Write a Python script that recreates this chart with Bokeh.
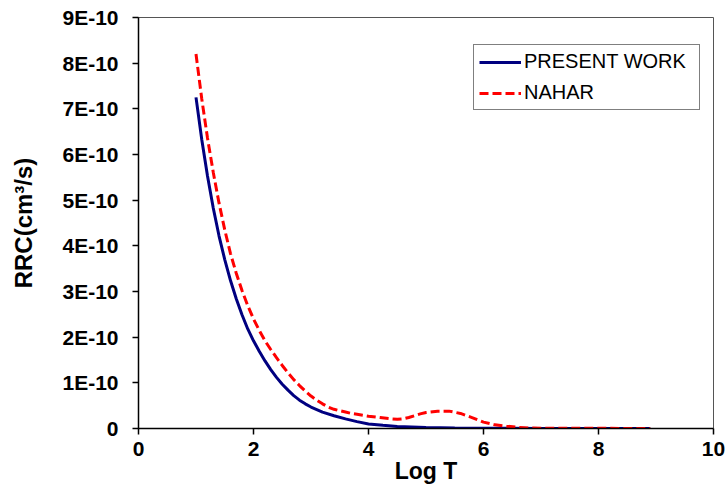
from bokeh.plotting import figure
from bokeh.models import FixedTicker, CustomJSTickFormatter, Range1d, Legend, LegendItem
from bokeh.embed import file_html
from bokeh.resources import INLINE

# Data
logT_present = [1.0, 1.1, 1.2, 1.3, 1.4, 1.5, 1.6, 1.7, 1.8, 1.9, 2.0, 2.1, 2.2, 2.3,
                2.4, 2.5, 2.6, 2.7, 2.8, 2.9, 3.0, 3.2, 3.4, 3.6, 3.8, 4.0, 4.25,
                4.5, 5.0, 5.5, 6.0, 7.0, 8.0, 8.9]
rrc_present = [7.25e-10, 6.33e-10, 5.53e-10, 4.83e-10, 4.22e-10, 3.70e-10, 3.24e-10,
               2.84e-10, 2.49e-10, 2.18e-10, 1.92e-10, 1.69e-10, 1.48e-10, 1.29e-10,
               1.12e-10, 0.97e-10, 0.84e-10, 0.72e-10, 0.62e-10, 0.54e-10, 0.47e-10,
               0.36e-10, 0.28e-10, 0.21e-10, 0.15e-10, 0.10e-10, 0.07e-10,
               0.045e-10, 0.02e-10, 0.01e-10, 0.005e-10, 0.002e-10, 0.001e-10, 0.0005e-10]

logT_nahar = [1.0, 1.1, 1.2, 1.3, 1.4, 1.5, 1.6, 1.7, 1.8, 1.9, 2.0, 2.1, 2.2, 2.3,
              2.4, 2.5, 2.6, 2.7, 2.8, 2.9, 3.0, 3.1, 3.2, 3.3, 3.4, 3.5, 3.6, 3.7,
              3.8, 3.9, 4.0, 4.2, 4.4, 4.5, 4.6, 4.7, 4.8, 4.9, 5.0, 5.2, 5.4, 5.6,
              5.8, 6.0, 6.2, 6.4, 6.6, 6.8, 7.0, 8.0, 8.9]
rrc_nahar = [8.2e-10, 7.22e-10, 6.36e-10, 5.61e-10, 4.94e-10, 4.35e-10, 3.83e-10,
             3.40e-10, 3.02e-10, 2.69e-10, 2.40e-10, 2.15e-10, 1.92e-10, 1.73e-10,
             1.55e-10, 1.38e-10, 1.22e-10, 1.07e-10, 0.94e-10, 0.82e-10, 0.71e-10,
             0.62e-10, 0.54e-10, 0.47e-10, 0.42e-10, 0.39e-10, 0.36e-10, 0.33e-10,
             0.31e-10, 0.29e-10, 0.27e-10, 0.24e-10, 0.21e-10, 0.20e-10, 0.21e-10,
             0.24e-10, 0.28e-10, 0.32e-10, 0.35e-10, 0.38e-10, 0.38e-10, 0.33e-10,
             0.24e-10, 0.14e-10, 0.08e-10, 0.05e-10, 0.025e-10, 0.012e-10,
             0.007e-10, 0.003e-10, 0.002e-10]

x_ticks = [0, 2, 4, 6, 8, 10]
y_ticks = [0, 1e-10, 2e-10, 3e-10, 4e-10, 5e-10, 6e-10, 7e-10, 8e-10, 9e-10]

FONT = "Liberation Sans"

p = figure(width=728, height=489, output_backend="svg", toolbar_location=None,
           x_range=Range1d(0, 10), y_range=Range1d(0, 9e-10),
           min_border_left=138, min_border_right=15, min_border_top=17,
           min_border_bottom=61)
p.background_fill_color = "white"
p.border_fill_color = "white"
p.outline_line_color = "#555555"
p.outline_line_width = 1
p.xgrid.visible = False
p.ygrid.visible = False

l1 = p.line(logT_present, rrc_present, line_color="#000080", line_width=3)
l2 = p.line(logT_nahar, rrc_nahar, line_color="#FF0000", line_width=3,
            line_dash="9 4")

for ax in (p.xaxis[0], p.yaxis[0]):
    ax.axis_line_color = "black"
    ax.axis_line_width = 1.5
    ax.major_tick_line_color = "black"
    ax.major_tick_line_width = 1.5
    ax.major_tick_in = 0
    ax.major_tick_out = 6
    ax.minor_tick_line_color = None
    ax.major_label_text_font = FONT
    ax.major_label_text_font_style = "bold"
    ax.major_label_text_font_size = "21px"
    ax.major_label_text_color = "black"
    ax.axis_label_text_font = FONT
    ax.axis_label_text_font_style = "bold"
    ax.axis_label_text_color = "black"

p.xaxis.axis_label_text_font_size = "23px"
p.yaxis.axis_label_text_font_size = "24px"
p.xaxis.ticker = FixedTicker(ticks=x_ticks)
p.yaxis.ticker = FixedTicker(ticks=y_ticks)
p.xaxis.axis_label = "Log T"
p.yaxis.axis_label = "RRC(cm³/s)"
p.xaxis.major_label_standoff = 7
p.yaxis.major_label_standoff = 14
p.xaxis.axis_label_standoff = -1
p.yaxis.axis_label_standoff = 22
p.yaxis.formatter = CustomJSTickFormatter(code="""
    if (Math.abs(tick) < 1e-20) { return "0"; }
    return Math.round(tick / 1e-10) + "E-10";
""")

legend = Legend(items=[LegendItem(label="PRESENT WORK", renderers=[l1]),
                       LegendItem(label="NAHAR", renderers=[l2])],
                location=(335, 318))
legend.label_text_font = FONT
legend.label_text_font_size = "20px"
legend.label_text_color = "black"
legend.glyph_width = 42
legend.glyph_height = 20
legend.label_height = 20
legend.label_width = 170
legend.label_standoff = 3
legend.spacing = 8
legend.padding = 5
legend.margin = 0
legend.border_line_color = "black"
legend.border_line_width = 1
legend.background_fill_alpha = 1
p.add_layout(legend, "center")

open("out.html", "w").write(file_html(p, INLINE))
